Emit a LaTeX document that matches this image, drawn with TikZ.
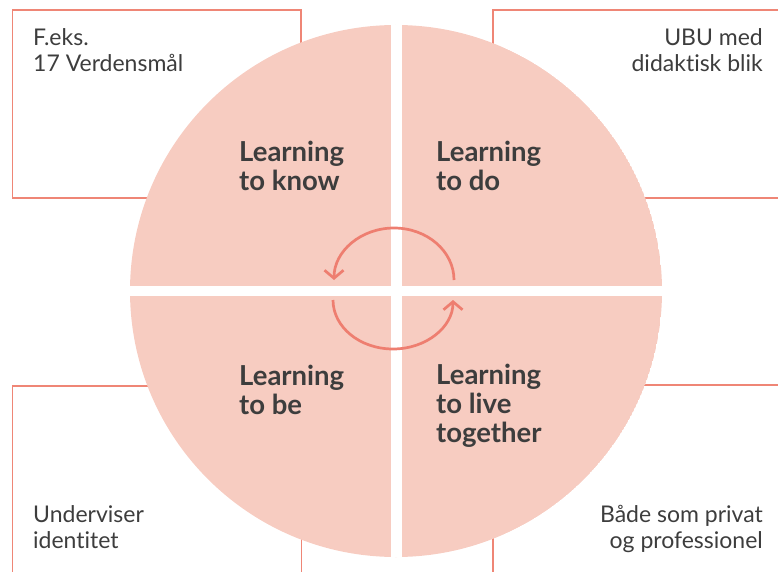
\documentclass[tikz,border=0pt]{standalone}
\usepackage{fontspec}
\setmainfont{Lato}[Ligatures=NoCommon]
\usetikzlibrary{arrows.meta}
\definecolor{pinkfill}{HTML}{F7CCC1}
\definecolor{boxline}{HTML}{EF8676}
\definecolor{arrowcol}{HTML}{EE7E70}
\definecolor{textcol}{HTML}{3D3D3D}
\tikzset{
  boxedge/.style={draw=boxline, line width=1.3pt},
  smalltext/.style={inner sep=0pt, text=textcol, font=\fontsize{23}{26}\selectfont},
  bigtext/.style={inner sep=0pt, text=textcol, align=left, font=\fontsize{27.5}{28.6}\selectfont\bfseries},
  cyclearrow/.style={draw=arrowcol, line width=2.7pt, -{Straight Barb[length=8pt,width=19pt]}}
}
\begin{document}
\begin{tikzpicture}[x=1pt,y=-1pt]
\useasboundingbox (0,0) rectangle (778,572);
% corner boxes (behind the circle)
\draw[boxedge] (12.5,10) rectangle (301,198);
\draw[boxedge] (780,10) -- (493,10) -- (493,198) -- (780,198);
\draw[boxedge] (12.5,575) -- (12.5,386) -- (301.5,386) -- (301.5,575);
\draw[boxedge] (780,385) -- (493,385) -- (493,575);
% circle split in four
\begin{scope}
  \clip (396,291) circle (266);
  \fill[pinkfill] (396,291) circle (266);
  \fill[white] (390.8,0) rectangle (401.8,572);
  \fill[white] (0,286) rectangle (778,296);
\end{scope}
% corner texts (base anchor = baseline of last line)
\node[smalltext, anchor=base west, align=left] (tl) at (33,72) {F.eks.\\17 Verdensmål};
\node[smalltext, anchor=base east, align=right] (tr) at (763,72) {UBU med\\didaktisk blik};
\node[smalltext, anchor=base west, align=left] (bl) at (33,548) {Underviser\\identitet};
\node[smalltext, anchor=base east, align=right] (br) at (763,548) {Både som privat\\og professionel};
% quadrant labels
\node[bigtext, anchor=base west] (know) at (239,190) {Learning\\to know};
\node[bigtext, anchor=base west] (do) at (436,190) {Learning\\to do};
\node[bigtext, anchor=base west] (be) at (239,414) {Learning\\to be};
\node[bigtext, anchor=base west] (live) at (436,442) {Learning\\to live\\together};
% cycle arrows
\coordinate (upR) at (454,280);
\coordinate (loL) at (333,300);
\draw[cyclearrow] (upR) arc[start angle=0, end angle=-180, x radius=60, y radius=52] coordinate (upL);
\draw[cyclearrow] (loL) arc[start angle=180, end angle=0, x radius=60, y radius=49] coordinate (loR);
\end{tikzpicture}
\end{document}
